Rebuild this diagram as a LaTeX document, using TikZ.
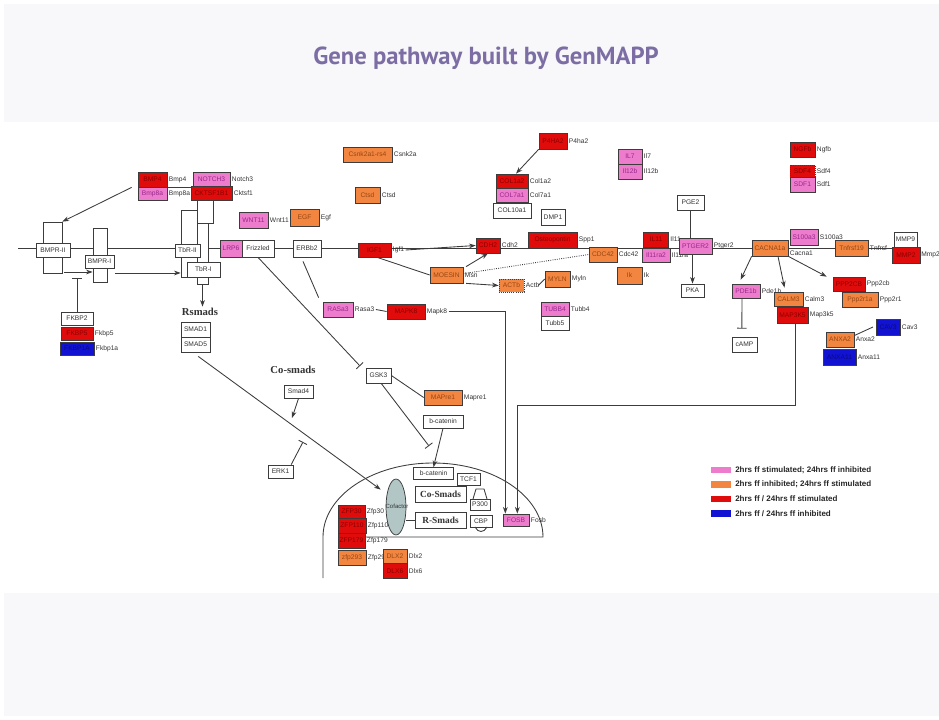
\documentclass[tikz,border=0pt]{standalone}
\usepackage{fontspec}
\setmainfont{Liberation Serif}
\setsansfont{Liberation Sans}
\newfontfamily\titlefont{PT Sans}
\usetikzlibrary{arrows.meta,shapes.geometric}

\definecolor{gpink}{RGB}{238,124,204}
\definecolor{gpinkT}{RGB}{150,40,140}
\definecolor{gorange}{RGB}{242,134,64}
\definecolor{gorangeT}{RGB}{150,70,20}
\definecolor{gred}{RGB}{224,12,12}
\definecolor{gredT}{RGB}{140,0,0}
\definecolor{gblue}{RGB}{18,18,210}
\definecolor{gblueT}{RGB}{10,10,130}
\definecolor{band}{RGB}{248,248,250}
\definecolor{ttl}{RGB}{124,110,164}
\definecolor{cof}{RGB}{178,198,198}
\definecolor{ink}{RGB}{60,60,60}

\tikzset{
  gb/.style={draw=ink, line width=0.55pt, rectangle, inner sep=0pt,
    font=\sffamily\fontsize{5}{6}\selectfont, align=center},
  wb/.style={gb, fill=white, text=black!80},
  pb/.style={gb, fill=gpink, text=gpinkT},
  ob/.style={gb, fill=gorange, text=gorangeT},
  rb/.style={gb, fill=gred, text=gredT},
  bb/.style={gb, fill=gblue, text=gblueT},
  lbl/.style={inner sep=1pt, font=\sffamily\fontsize{5}{6}\selectfont, text=black!80},
  recbar/.style={draw=ink, line width=0.55pt, fill=white, rectangle, inner sep=0pt},
  conn/.style={draw=ink, line width=0.65pt},
  act/.style={conn, -{Stealth[length=5pt,width=3.6pt]}},
  inh/.style={conn, -{Bar[width=7pt]}},
  hdr/.style={inner sep=1pt, font=\rmfamily\bfseries\fontsize{8}{9}\selectfont, text=black!80},
  smadbox/.style={wb, font=\rmfamily\bfseries\fontsize{7}{8}\selectfont},
  legtext/.style={anchor=west, inner sep=0pt, font=\sffamily\bfseries\fontsize{6}{7}\selectfont, text=black!85},
  swatch/.style={minimum width=15pt, minimum height=5pt, inner sep=0pt},
}

% gene box with its symbol printed to the right
\newcommand{\genebox}[8]{%
  \node[#1, minimum width={#5*0.75pt}, minimum height={#6*0.75pt}] (#2) at (#3,#4) {#7};
  \node[lbl, anchor=west] (#2l) at (#2.east) {#8};}
% plain receptor bar crossing the membrane
\newcommand{\recbar}[5]{%
  \node[recbar, minimum width={#4*0.75pt}, minimum height={#5*0.75pt}] (#1) at (#2,#3) {};}

\begin{document}
\begin{tikzpicture}[x=0.75pt,y=-0.75pt]
\useasboundingbox (0,0) rectangle (939,720);

% header and footer bands
\fill[band] (4,4) rectangle (939,122);
\fill[band] (4,593) rectangle (939,716);
\node[font=\titlefont\bfseries\fontsize{18.5}{22}\selectfont, text=ttl] (title) at (486,58)
  {Gene pathway built by GenMAPP};

% membrane
\coordinate (memL) at (18,248);
\coordinate (memR) at (894,248);
\draw[conn] (memL) -- (memR);

% receptors
\recbar{rBMPRII}{52.5}{247.5}{19}{51}
\recbar{rBMPRI}{100}{255}{14}{54}
\recbar{rTbRII}{189}{243.5}{16}{67}
\recbar{rTbRIa}{205}{209}{16}{28}
\recbar{rTbRIb}{202.5}{253.5}{11}{61}
\genebox{wb}{BMPRII}{53}{250}{34}{14}{BMPR-II}{}
\genebox{wb}{BMPRI}{99.5}{261.5}{29}{13}{BMPR-I}{}
\genebox{wb}{TbRII}{187.5}{250.5}{25}{13}{TbR-II}{}
\genebox{wb}{TbRI}{203.5}{269.5}{33}{15}{TbR-I}{}

% left column
\genebox{wb}{FKBP2}{77}{318.5}{32}{13}{FKBP2}{}
\genebox{rb}{FKBP5}{77}{333.5}{32}{13}{FKBP5}{Fkbp5}
\genebox{bb}{FKBP1A}{77}{348.5}{34}{13}{FKBP1A}{Fkbp1a}
\genebox{rb}{BMP4}{152.5}{179.5}{29}{15}{BMP4}{Bmp4}
\genebox{pb}{BMP8a}{152.5}{193.5}{29}{13}{Bmp8a}{Bmp8a}
\genebox{pb}{NOTCH3}{211.5}{179}{37}{14}{NOTCH3}{Notch3}
\genebox{rb}{CKTSF}{211.5}{193}{41}{14}{CKTSF1B1}{Cktsf1}
\node[hdr] (Rsmads) at (200,312) {Rsmads};
\genebox{wb}{SMAD1}{195.5}{329.5}{29}{15}{SMAD1}{}
\genebox{wb}{SMAD5}{195.5}{344.5}{29}{15}{SMAD5}{}

% upper middle
\genebox{pb}{WNT11}{253.5}{220}{29}{16}{WNT11}{Wnt11}
\genebox{ob}{EGF}{304.5}{217.5}{29}{17}{EGF}{Egf}
\genebox{ob}{CSNK}{367.5}{154.5}{49}{15}{Csnk2a1-rs4}{Csnk2a}
\genebox{ob}{CTSD}{367.5}{195}{25}{16}{Ctsd}{Ctsd}
\genebox{pb}{LRP6}{231}{248.5}{22}{17}{LRP6}{}
\genebox{wb}{Frizzled}{258}{248.5}{32}{17}{Frizzled}{}
\genebox{wb}{ERBb2}{307}{248.5}{28}{17}{ERBb2}{}
\genebox{rb}{IGF1}{374.5}{250}{33}{14}{IGF1}{Igf1}
\genebox{rb}{CDCr}{488}{245.5}{24}{15}{CDH2}{Cdh2}
\genebox{rb}{OPN}{552.5}{240}{49}{16}{Osteopontin}{Spp1}
\genebox{ob}{CDC42}{603}{254.5}{28}{15}{CDC42}{Cdc42}
\genebox{ob}{MOESIN}{446.5}{275}{33}{16}{MOESIN}{Msn}
\genebox{ob, densely dotted}{ACTb}{511.5}{285.5}{25}{13}{ACTb}{Actb}
\genebox{ob}{MYLN}{557.5}{279}{25}{16}{MYLN}{Myln}
\genebox{pb}{TUBB4}{555}{309}{28}{14}{TUBB4}{Tubb4}
\genebox{wb}{TUBB5}{555}{323}{28}{14}{Tubb5}{}
\genebox{rb}{P4HA2}{553}{141}{28}{16}{P4HA2}{P4ha2}
\genebox{rb}{COL1a2}{512}{181}{32}{14}{COL1a2}{Col1a2}
\genebox{pb}{COL7a1}{512}{195}{32}{14}{COL7a1}{Col7a1}
\genebox{wb}{COL10a1}{512}{210.5}{38}{15}{COL10a1}{}
\genebox{wb}{DMP1}{553}{217}{24}{16}{DMP1}{}
\genebox{pb}{IL7}{630}{156.5}{24}{15}{IL7}{Il7}
\genebox{pb}{IL12b}{630}{171.5}{24}{15}{Il12b}{Il12b}
\genebox{wb}{PGE2}{690.5}{202.5}{27}{15}{PGE2}{}
\genebox{rb}{IL11}{656}{239.5}{25}{15}{IL11}{Il11}
\genebox{pb}{IL11RA}{656}{255}{28}{14}{Il11ra2}{Il11ra}
\genebox{pb}{PTGER2}{695.5}{246}{33}{16}{PTGER2}{Ptger2}
\genebox{wb}{PKA}{692.5}{290.5}{23}{13}{PKA}{}
\genebox{ob}{IK}{629.5}{275.5}{25}{17}{Ik}{Ik}

% right part
\genebox{rb}{NGFb}{802.5}{149.5}{25}{15}{NGFb}{Ngfb}
\genebox{rb, densely dotted}{SDF4}{802.5}{171}{25}{12}{SDF4}{Sdf4}
\genebox{pb}{SDF1}{802.5}{184.5}{25}{15}{SDF1}{Sdf1}
\genebox{pb}{S100a3}{804}{237}{28}{16}{S100a3}{S100a3}
\genebox{ob}{CACNA1a}{770}{248}{36}{16}{CACNA1a}{}
\node[lbl, anchor=west] (CACNA1al) at ([yshift=-4pt]CACNA1a.east) {Cacna1};
\genebox{ob}{TNFRSF}{851.5}{248}{33}{16}{Tnfrsf19}{Tnfrsf}
\genebox{wb}{MMP9}{905.5}{239.5}{23}{15}{MMP9}{}
\genebox{rb}{MMP2}{906}{255}{28}{16}{MMP2}{}
\node[lbl, anchor=west, inner sep=0.5pt] (MMP2l) at (MMP2.east) {Mmp2};
\genebox{pb}{PDE1b}{746}{291}{28}{14}{PDE1b}{Pde1b}
\genebox{wb}{cAMP}{744.5}{344.5}{25}{15}{cAMP}{}
\genebox{ob}{CALM3}{788.5}{299}{29}{14}{CALM3}{Calm3}
\genebox{rb}{MAP3K5}{792.5}{315}{31}{16}{MAP3K5}{Map3k5}
\genebox{rb}{PPP2CB}{849}{284}{32}{14}{PPP2CB}{Ppp2cb}
\genebox{ob}{PPP2R1A}{860}{299.5}{36}{15}{Ppp2r1a}{Ppp2r1}
\genebox{bb}{CAV3}{888}{327}{24}{16}{CAV3}{Cav3}
\genebox{ob}{ANXA2}{840}{339.5}{28}{15}{ANXA2}{Anxa2}
\genebox{bb}{ANXA11}{839.5}{357}{33}{16}{ANXA11}{Anxa11}

% lower middle
\genebox{pb}{RASa3}{338}{309.5}{30}{15}{RASa3}{Rasa3}
\genebox{rb}{MAPK8}{406}{311.5}{38}{15}{MAPK8}{Mapk8}
\genebox{wb}{GSK3}{378.5}{375.5}{25}{15}{GSK3}{}
\genebox{ob}{MAPRE1}{443}{397.5}{38}{15}{MAPre1}{Mapre1}
\genebox{wb}{bcat}{443}{421.5}{40}{13}{b-catenin}{}
\node[hdr] (Cosmads) at (293,370) {Co-smads};
\genebox{wb}{Smad4}{298.5}{391.5}{29}{13}{Smad4}{}
\genebox{wb}{ERK1}{280.5}{471.5}{25}{13}{ERK1}{}

% nucleus
\draw[conn] (323,578) -- (323,537)
  arc[start angle=180, end angle=360, x radius=110, y radius=74] -- (366,537);
\node[ellipse, draw=ink, line width=0.55pt, fill=cof, inner sep=0pt,
  minimum width={20*0.75pt}, minimum height={56*0.75pt}] (cofactor) at (396,507) {};
\node[lbl, font=\sffamily\fontsize{4.5}{5}\selectfont] (coftext) at (397,506) {Cofactor};
\genebox{wb}{bcatN}{433.5}{473.5}{40}{12}{b-catenin}{}
\genebox{wb}{TCF1}{468.5}{479}{23}{12}{TCF1}{}
\node[smadbox, minimum width={51*0.75pt}, minimum height={16*0.75pt}] (CoSmads) at (440.5,494) {Co-Smads};
\node[smadbox, minimum width={51*0.75pt}, minimum height={16*0.75pt}] (RSmads) at (440.5,520) {R-Smads};
\genebox{wb}{P300}{480}{504.5}{20}{11}{P300}{}
\genebox{wb}{CBP}{481}{521}{22}{12}{CBP}{}
\draw[conn] (473,499) -- (476,489) -- (484,489) -- (487,499);
\draw[conn] (475,527) .. controls (478,533) and (484,533) .. (487,527);
\genebox{pb}{FOSB}{516}{520}{26}{12}{FOSB}{Fosb}
\genebox{rb}{ZFP30}{351.5}{511.5}{27}{13}{ZFP30}{Zfp30}
\genebox{rb}{ZFP110}{352}{525.5}{28}{15}{ZFP110}{Zfp110}
\genebox{rb}{ZFP179}{351.5}{540.5}{27}{15}{ZFP179}{Zfp179}
\genebox{ob}{ZFP293}{352}{557.5}{28}{15}{zfp293}{Zfp293}
\genebox{ob}{DLX2}{395}{556}{24}{14}{DLX2}{Dlx2}
\genebox{rb}{DLX6}{395}{571}{24}{15}{DLX6}{Dlx6}

% connectors: BMP / TGF-beta branch
\draw[act] ([xshift=-4.5pt]BMP4.south west) -- (rBMPRII.north east);
\coordinate (bmprIn) at (64,272);
\draw[act] (bmprIn) -- (bmprIn -| rBMPRI.west);
\coordinate (fkbpBar) at (77,278);
\draw[inh] (FKBP2.north) -- (fkbpBar);
\coordinate (tbrIn) at (115,273);
\draw[act] (tbrIn) -- (tbrIn -| rTbRII.west);
\draw[act] (rTbRIb.south) -- (rTbRIb.south |- Rsmads.north);
\draw[conn] (BMP4.south east) -- (BMP4.south east -| CKTSF.west);
\draw[act] ([xshift=2pt,yshift=-3pt]SMAD5.south) -- ([xshift=-6pt,yshift=-2pt]cofactor.north west);
\coordinate (s4end) at (292,418);
\draw[act] (Smad4.south) -- (s4end);
\coordinate (erkBar) at (303,442);
\draw[inh] ([xshift=8pt]ERK1.north) -- (erkBar);
\draw[conn] (cofactor.east |- RSmads.west) -- (RSmads.west);

% Wnt / ErbB branch
\coordinate (gskBar) at (360,366);
\draw[inh] (Frizzled.south) -- (gskBar);
\draw[conn] (GSK3.east) -- (MAPRE1.west);
\coordinate (bcatBar) at (429,446);
\draw[inh] ([xshift=2pt]GSK3.south) -- (bcatBar);
\draw[act] (bcat.south) -- (bcatN.north);
\draw[conn] ([xshift=-3pt,yshift=-3pt]ERBb2.south) -- ([xshift=-3pt,yshift=3pt]RASa3.north west);
\draw[conn] (RASa3l.east) -- (MAPK8.west);
\draw[act] (MAPK8l.east) -| ([xshift=-8pt]FOSB.north);
\draw[act] ([xshift=2pt]MAP3K5.south) -- ++(0,82) -| ([xshift=1pt]FOSB.north);

% cytoskeleton
\draw[act] (IGF1l.east) -- (CDCr.west);
\draw[conn] ([xshift=2pt]IGF1.south) -- (MOESIN.west);
\draw[act] ([xshift=2pt]MOESIN.north east) -- (CDCr.south);
\draw[conn, densely dotted] ([yshift=1pt]MOESIN.east) -- (CDC42.west);
\draw[act] ([xshift=2pt]MOESIN.south east) -- (ACTb.west);
\draw[conn] ([xshift=-2pt]ACTbl.east) -- (MYLN.west);
\draw[act] (P4HA2.south west) -- ([xshift=3pt]COL1a2.north);

% prostaglandin / calcium branch
\draw[conn] (PGE2.south) -- (PGE2.south |- PTGER2.north);
\draw[act] (PKA.north |- PTGER2.south) -- (PKA.north);
\draw[act] (CACNA1a.south west) -- ([xshift=-4pt,yshift=3pt]PDE1b.north);
\draw[act] ([xshift=6pt]CACNA1a.south) -- ([xshift=-3pt,yshift=3pt]CALM3.north);
\draw[act] (CACNA1a.south east) -- ([xshift=-4.5pt]PPP2CB.north west);
\draw[inh] ([xshift=-3pt]PDE1b.south) -- ([xshift=-2pt,yshift=6pt]cAMP.north);
\draw[conn] (ANXA2l.north west) -- ([xshift=-2pt]CAV3.west);

% legend
\node[swatch, fill=gpink] (lg1s) at (721,470) {};
\node[legtext] (lg1) at (735,470) {2hrs ff stimulated; 24hrs ff inhibited};
\node[swatch, fill=gorange] (lg2s) at (721,484.5) {};
\node[legtext] (lg2) at (735,484.5) {2hrs ff inhibited; 24hrs ff stimulated};
\node[swatch, fill=gred] (lg3s) at (721,499) {};
\node[legtext] (lg3) at (735,499) {2hrs ff / 24hrs ff stimulated};
\node[swatch, fill=gblue] (lg4s) at (721,513.5) {};
\node[legtext] (lg4) at (735,513.5) {2hrs ff / 24hrs ff inhibited};
\end{tikzpicture}
\end{document}
